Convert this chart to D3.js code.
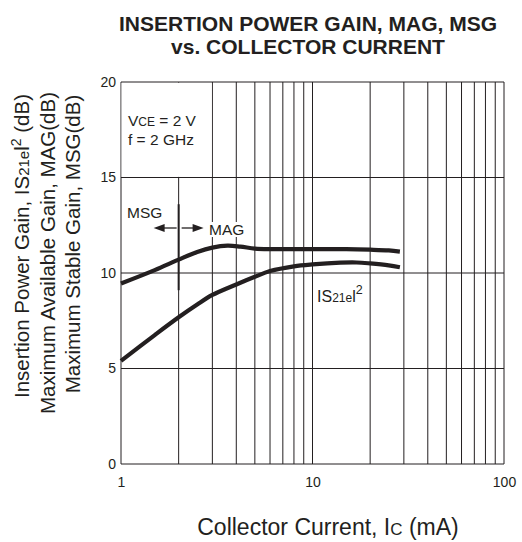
<!DOCTYPE html>
<html><head><meta charset="utf-8">
<script src="https://cdn.jsdelivr.net/npm/d3@7"></script>
<style>
html,body{margin:0;padding:0;background:#fff;}
svg{display:block;font-family:"Liberation Sans",Arial,Helvetica,sans-serif;}
</style></head>
<body>
<svg id="chart" width="522" height="542"></svg>
<script>
// ---- data ----
const magCurrent = [1, 1.5, 2, 2.5, 3, 3.6, 4.2, 5, 6, 8, 10, 15, 20, 25, 28.6];
const magGain    = [9.45, 10.15, 10.7, 11.1, 11.33, 11.43, 11.38, 11.28, 11.25, 11.25, 11.25, 11.25, 11.22, 11.18, 11.12];
const s21Current = [1, 1.5, 2, 2.5, 3, 4, 5, 6, 8, 10, 14, 17, 20, 25, 28.6];
const s21Gain    = [5.4, 6.75, 7.68, 8.35, 8.85, 9.4, 9.8, 10.1, 10.35, 10.45, 10.54, 10.55, 10.5, 10.4, 10.3];
const xTickLabels = [1, 10, 100];
const yTickLabels = [0, 5, 10, 15, 20];
const msgMagBoundary = 2;          // mA
const boundaryRange = [9.1, 13.6]; // dB

const svg = d3.select("#chart");
const L = 121, R = 504, T = 82, B = 464;
const x = d3.scaleLog().domain([1, 100]).range([L, R]);
const y = d3.scaleLinear().domain([0, 20]).range([B, T]);
const ink = "#231f20";

// title
const title = svg.append("text").attr("text-anchor", "middle")
  .attr("font-weight", "bold").attr("font-size", 21).attr("fill", ink);
title.append("tspan").attr("x", 308).attr("y", 31).text("INSERTION POWER GAIN, MAG, MSG");
title.append("tspan").attr("x", 308).attr("y", 54).text("vs. COLLECTOR CURRENT");

// grid
const vGrid = [];
for (let d = 1; d < 100; d *= 10) for (let k = 1; k < 10; k++) vGrid.push(k * d);
vGrid.push(100);
svg.append("g").selectAll("line").data(vGrid).join("line")
  .attr("x1", d => x(d)).attr("x2", d => x(d)).attr("y1", T).attr("y2", B)
  .attr("stroke", ink).attr("stroke-width", 1);
// white box for conditions (hides the 2 mA grid line above 15 dB)
svg.append("rect").attr("x", x(1) + 0.6).attr("y", y(20) + 0.6)
  .attr("width", x(3) - x(1) - 1.2).attr("height", y(15) - y(20) - 1.2).attr("fill", "#fff");
svg.append("g").selectAll("line").data(yTickLabels).join("line")
  .attr("x1", L).attr("x2", R).attr("y1", d => y(d)).attr("y2", d => y(d))
  .attr("stroke", ink).attr("stroke-width", 1);

// axes (labels only)
const xAxis = svg.append("g").attr("transform", `translate(0,${B})`)
  .call(d3.axisBottom(x).tickValues(xTickLabels).tickFormat(d3.format("d")).tickSize(0).tickPadding(13));
const yAxis = svg.append("g").attr("transform", `translate(${L},0)`)
  .call(d3.axisLeft(y).tickValues(yTickLabels).tickSize(0).tickPadding(5));
[xAxis, yAxis].forEach(a => {
  a.select(".domain").remove();
  a.selectAll("text").attr("font-size", 14).attr("fill", ink)
    .attr("font-family", "Liberation Sans, Arial, sans-serif");
});

// curves
const line = d3.line().x(d => x(d[0])).y(d => y(d[1])).curve(d3.curveCatmullRom.alpha(0.5));
svg.append("path").datum(magCurrent.map((c, i) => [c, magGain[i]]))
  .attr("d", line).attr("fill", "none").attr("stroke", ink).attr("stroke-width", 4.2);
svg.append("path").datum(s21Current.map((c, i) => [c, s21Gain[i]]))
  .attr("d", line).attr("fill", "none").attr("stroke", ink).attr("stroke-width", 4.2);

// MSG/MAG boundary
const bx = x(msgMagBoundary);
svg.append("line").attr("x1", bx).attr("x2", bx)
  .attr("y1", y(boundaryRange[1])).attr("y2", y(boundaryRange[0]))
  .attr("stroke", ink).attr("stroke-width", 2);
const ay = 228;
function arrow(x1, x2) {
  const dir = Math.sign(x2 - x1);
  svg.append("line").attr("x1", x1).attr("x2", x2 - dir * 8).attr("y1", ay).attr("y2", ay)
    .attr("stroke", ink).attr("stroke-width", 1.3);
  svg.append("path").attr("d", `M${x2},${ay} L${x2 - dir * 11},${ay - 4} L${x2 - dir * 11},${ay + 4} Z`)
    .attr("fill", ink);
}
arrow(bx - 2, bx - 25);
arrow(bx + 3, bx + 25);
svg.append("text").attr("x", 127).attr("y", 218).attr("font-size", 15.5).attr("fill", ink).text("MSG");
svg.append("rect").attr("x", 208).attr("y", 222).attr("width", 38).attr("height", 15).attr("fill", "#fff");
svg.append("text").attr("x", 209).attr("y", 235).attr("font-size", 15.5).attr("fill", ink).text("MAG");

// conditions
const c1 = svg.append("text").attr("x", 128).attr("y", 126).attr("font-size", 15.5).attr("fill", ink);
c1.append("tspan").text("V");
c1.append("tspan").attr("font-size", 12).text("CE");
c1.append("tspan").text(" = 2 V");
svg.append("text").attr("x", 128).attr("y", 145).attr("font-size", 15.5).attr("fill", ink).text("f = 2 GHz");

// S21 label
const s = svg.append("text").attr("x", 317).attr("y", 302).attr("font-size", 16).attr("fill", ink);
s.append("tspan").text("IS");
s.append("tspan").attr("font-size", 12).text("21e");
s.append("tspan").text("l");
s.append("tspan").attr("dy", -8).attr("font-size", 12.5).text("2");

// x title
const xt = svg.append("text").attr("x", 328).attr("y", 535).attr("text-anchor", "middle")
  .attr("font-size", 23).attr("fill", ink);
xt.append("tspan").text("Collector Current, I");
xt.append("tspan").attr("font-size", 17).text("C");
xt.append("tspan").text(" (mA)");

// y title
const yc = 246;
const yt = svg.append("g").attr("transform", `translate(0,${yc}) rotate(-90)`);
const l1 = yt.append("text").attr("x", 0).attr("y", 29).attr("text-anchor", "middle")
  .attr("font-size", 20.5).attr("fill", ink);
l1.append("tspan").text("Insertion Power Gain, IS");
l1.append("tspan").attr("font-size", 15).text("21e");
l1.append("tspan").text("l");
l1.append("tspan").attr("dy", -8).attr("font-size", 14).text("2");
l1.append("tspan").attr("dy", 8).text(" (dB)");
yt.append("text").attr("x", -7).attr("y", 55).attr("text-anchor", "middle")
  .attr("font-size", 20.5).attr("fill", ink).text("Maximum Available Gain, MAG(dB)");
yt.append("text").attr("x", 2).attr("y", 80).attr("text-anchor", "middle")
  .attr("font-size", 20.5).attr("fill", ink).text("Maximum Stable Gain, MSG(dB)");
</script>
</body></html>
